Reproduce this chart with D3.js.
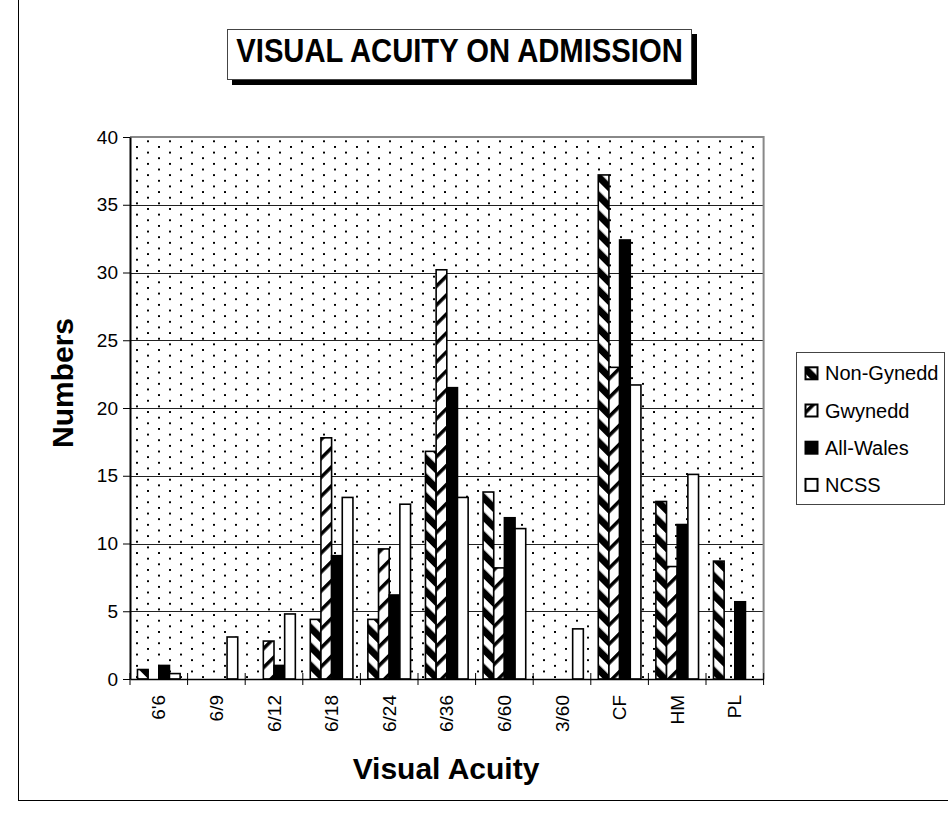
<!DOCTYPE html>
<html>
<head>
<meta charset="utf-8">
<script src="https://cdn.jsdelivr.net/npm/d3@7"></script>
<style>
  html, body { margin: 0; padding: 0; background: #fff; }
  svg text { font-family: Arial, "Liberation Sans", Helvetica, sans-serif; fill: #000; }
</style>
</head>
<body>
<svg id="chart" width="948" height="819"></svg>
<script>
// Visual acuity grades on admission
const categories = ["6'6", "6/9", "6/12", "6/18", "6/24", "6/36", "6/60", "3/60", "CF", "HM", "PL"];
const seriesNames = ["Non-Gynedd", "Gwynedd", "All-Wales", "NCSS"];
const nonGynedd = [0.7, 0, 0, 4.4, 4.4, 16.8, 13.8, 0, 37.2, 13.1, 8.7];
const gwynedd   = [0, 0, 2.8, 17.8, 9.6, 30.2, 8.2, 0, 23.0, 8.3, 0];
const allWales  = [1.0, 0, 1.0, 9.1, 6.2, 21.5, 11.9, 0, 32.4, 11.4, 5.7];
const ncss      = [0.4, 3.1, 4.8, 13.4, 12.9, 13.4, 11.1, 3.7, 21.7, 15.1, 0];
const yTicks = [0, 5, 10, 15, 20, 25, 30, 35, 40];

const seriesValues = [nonGynedd, gwynedd, allWales, ncss];
const fills = ["url(#hatchBack)", "url(#hatchFwd)", "#000", "#fff"];

const svg = d3.select("#chart");
const defs = svg.append("defs");

// dotted plot-area background
const dots = defs.append("pattern").attr("id", "dots")
  .attr("patternUnits", "userSpaceOnUse")
  .attr("x", 136).attr("y", 146)
  .attr("width", 22).attr("height", 11.28);
dots.append("rect").attr("width", 22).attr("height", 11.28).attr("fill", "#fff");
dots.append("rect").attr("x", 0).attr("y", 0).attr("width", 2).attr("height", 2)
  .attr("fill", "#000").attr("shape-rendering", "crispEdges");
dots.append("rect").attr("x", 11).attr("y", 5.64).attr("width", 2).attr("height", 2)
  .attr("fill", "#000").attr("shape-rendering", "crispEdges");

// heavy "\" hatching
const hb = defs.append("pattern").attr("id", "hatchBack")
  .attr("patternUnits", "userSpaceOnUse")
  .attr("width", 13.4).attr("height", 13.4)
  .attr("patternTransform", "rotate(-45)");
hb.append("rect").attr("width", 13.4).attr("height", 13.4).attr("fill", "#fff");
hb.append("rect").attr("width", 7).attr("height", 13.4).attr("fill", "#000");

// light "/" hatching
const hf = defs.append("pattern").attr("id", "hatchFwd")
  .attr("patternUnits", "userSpaceOnUse")
  .attr("width", 13.4).attr("height", 13.4)
  .attr("patternTransform", "rotate(45)");
hf.append("rect").attr("width", 13.4).attr("height", 13.4).attr("fill", "#fff");
hf.append("rect").attr("width", 3.5).attr("height", 13.4).attr("fill", "#000");

// outer frame
svg.append("rect").attr("x", 18.5).attr("y", -2).attr("width", 940).attr("height", 802.5)
  .attr("fill", "#fff").attr("stroke", "#000").attr("stroke-width", 1);

// scales
const x = d3.scaleBand().domain(categories).range([130, 763.6]).paddingInner(0).paddingOuter(0);
const xs = d3.scaleBand().domain(seriesNames).range([0, x.bandwidth()]).paddingInner(0).paddingOuter(0.7);
const y = d3.scaleLinear().domain([0, 40]).range([679, 137]);

const plotL = x.range()[0], plotR = x.range()[1];

// plot area
svg.append("rect").attr("x", plotL).attr("y", y(40))
  .attr("width", plotR - plotL).attr("height", y(0) - y(40))
  .attr("fill", "url(#dots)");

// gridlines
svg.append("g").selectAll("line").data(yTicks.filter(d => d > 0 && d < 40)).join("line")
  .attr("x1", plotL).attr("x2", plotR)
  .attr("y1", d => Math.round(y(d)) + 0.5).attr("y2", d => Math.round(y(d)) + 0.5)
  .attr("stroke", "#222").attr("stroke-width", 1);

// plot border top/right
svg.append("path")
  .attr("d", `M${plotL},${y(40)}H${plotR}V${y(0)}`)
  .attr("fill", "none").attr("stroke", "#888").attr("stroke-width", 2);

// bars
const bars = [];
seriesNames.forEach((s, si) => {
  categories.forEach((c, ci) => {
    const v = seriesValues[si][ci];
    if (v > 0) bars.push({ s, si, c, v });
  });
});
svg.append("g").selectAll("rect").data(bars).join("rect")
  .attr("x", d => x(d.c) + xs(d.s))
  .attr("y", d => y(d.v))
  .attr("width", xs.bandwidth())
  .attr("height", d => y(0) - y(d.v))
  .attr("fill", d => fills[d.si])
  .attr("stroke", "#000").attr("stroke-width", 1.6);

// y axis
const yAxis = svg.append("g").attr("transform", `translate(${plotL},0)`)
  .call(d3.axisLeft(y).tickValues(yTicks).tickSize(7).tickPadding(5).tickSizeOuter(0));
yAxis.select(".domain").attr("stroke", "#000").attr("stroke-width", 2);
yAxis.selectAll(".tick line").attr("stroke", "#000");
yAxis.selectAll(".tick text").style("font-size", "19px").attr("fill", "#000");

// x axis labels
const xAxis = svg.append("g").attr("transform", `translate(0,${y(0)})`)
  .call(d3.axisBottom(x).tickSize(0).tickSizeOuter(0));
xAxis.select(".domain").attr("stroke", "#000").attr("stroke-width", 1.5);
xAxis.selectAll(".tick text")
  .style("font-size", "19px").attr("fill", "#000")
  .attr("text-anchor", "end")
  .attr("transform", "translate(0,16) rotate(-90)")
  .attr("x", 0).attr("y", 0).attr("dy", "0.35em");

// category boundary tick marks
const bounds = categories.map(c => x(c)).concat([plotR]);
svg.append("g").selectAll("line").data(bounds).join("line")
  .attr("x1", d => d).attr("x2", d => d)
  .attr("y1", y(0) - 6).attr("y2", y(0) + 6)
  .attr("stroke", "#000").attr("stroke-width", 1);

// axis titles
svg.append("text")
  .attr("transform", `translate(73,383) rotate(-90)`)
  .attr("text-anchor", "middle")
  .style("font-size", "30px").style("font-weight", "bold")
  .text("Numbers");
svg.append("text")
  .attr("x", 446).attr("y", 779)
  .attr("text-anchor", "middle")
  .style("font-size", "30px").style("font-weight", "bold")
  .text("Visual Acuity");

// title box with drop shadow
svg.append("rect").attr("x", 232).attr("y", 34).attr("width", 465).attr("height", 51).attr("fill", "#000");
svg.append("rect").attr("x", 227.5).attr("y", 29.5).attr("width", 464).attr("height", 50)
  .attr("fill", "#fff").attr("stroke", "#444").attr("stroke-width", 1);
svg.append("text")
  .attr("transform", "translate(459.5,62) scale(0.86,1)")
  .attr("text-anchor", "middle")
  .style("font-size", "34px").style("font-weight", "bold")
  .text("VISUAL ACUITY ON ADMISSION");

// legend
const lg = svg.append("g");
lg.append("rect").attr("x", 796.5).attr("y", 352.5).attr("width", 148).attr("height", 152)
  .attr("fill", "#fff").attr("stroke", "#444").attr("stroke-width", 1);
const items = lg.selectAll("g.item").data(seriesNames).join("g")
  .attr("class", "item")
  .attr("transform", (d, i) => `translate(805,${373.3 + i * 37.2})`);
items.append("rect").attr("x", 0.5).attr("y", -6).attr("width", 12).attr("height", 12)
  .attr("fill", (d, i) => fills[i]).attr("stroke", "#000").attr("stroke-width", 2);
items.append("text").attr("x", 20).attr("dy", "0.35em")
  .style("font-size", "20px").text(d => d);
</script>
</body>
</html>
